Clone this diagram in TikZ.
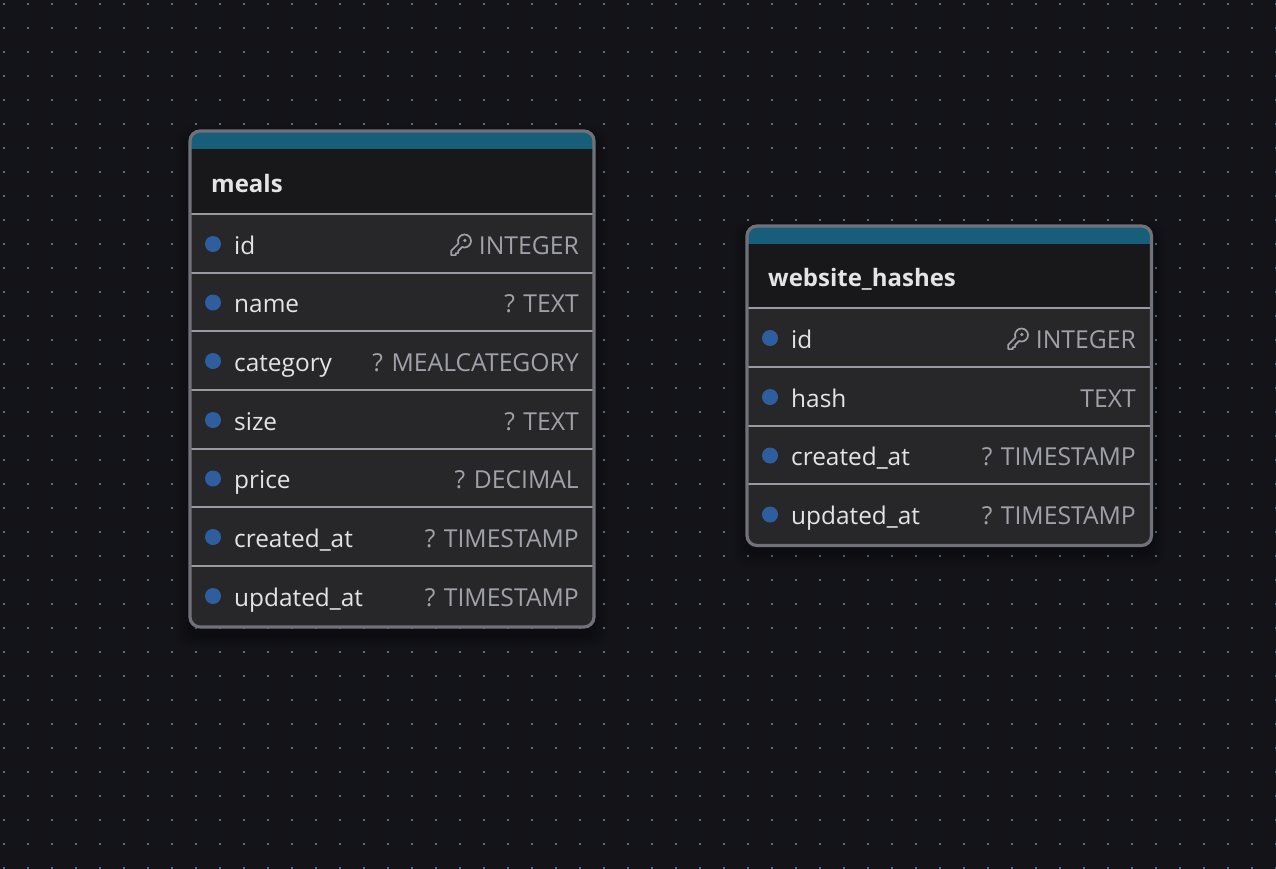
\documentclass[tikz,border=0pt]{standalone}
\usepackage{fontspec}
\setmainfont{Open Sans}
\definecolor{bg}{HTML}{141418}
\definecolor{griddot}{HTML}{4A6F8C}
\definecolor{band}{HTML}{175E7B}
\definecolor{titlebg}{HTML}{18181B}
\definecolor{rowbg}{HTML}{27272A}
\definecolor{frame}{HTML}{71717A}
\definecolor{rule}{HTML}{9A9AA5}
\definecolor{bullet}{HTML}{2F5E9E}
\definecolor{nametxt}{HTML}{E4E4E7}
\definecolor{typetxt}{HTML}{A1A1AA}
\tikzset{
  x=1pt,y=-1pt,
  griddotmark/.style={fill=griddot,draw=none},
  titletxt/.style={anchor=base west,inner sep=0pt,text=nametxt,font=\fontsize{24}{28}\selectfont\bfseries},
  coltxt/.style={anchor=base west,inner sep=0pt,text=nametxt,font=\fontsize{24.4}{28}\selectfont},
  tytxt/.style={anchor=base east,inner sep=0pt,text=typetxt,font=\fontsize{24.7}{28}\selectfont},
  rowrule/.style={draw=rule,line width=2pt},
  bulletdot/.style={circle,fill=bullet,draw=none,minimum size=16pt,inner sep=0pt},
  keyicon/.style={draw=typetxt,line width=1.7pt,line join=round},
}
\newcommand{\softshadow}[4]{%
  \foreach \e in {1,3,...,13}{
    \fill[black,opacity=0.025,rounded corners=12pt]
      (#1-\e,#2+8-\e) rectangle (#3+\e,#4+8+\e);
  }
}
\newcommand{\tablebody}[5]{%
  \fill[rowbg,rounded corners=10pt] (#1,#2) rectangle (#3,#4);
  \begin{scope}
    \clip[rounded corners=10pt] (#1,#2) rectangle (#3,#4);
    \fill[titlebg] (#1,#2) rectangle (#3,#5);
    \fill[band] (#1,#2) rectangle (#3,#2+18);
  \end{scope}
}
\newcommand{\tableframe}[4]{%
  \draw[frame,line width=3.2pt,rounded corners=10pt] (#1,#2) rectangle (#3,#4);
}
\newcommand{\tablerow}[5]{%
  \node[bulletdot] (b#5) at (#1+23,#2-10) {};
  \node[coltxt] (n#5) at (#1+44,#2) {#3};
  \node[tytxt] (t#5) at (#1+389,#2) {#4};
}
\newcommand{\keyat}[2]{%
  \begin{scope}[shift={(#1,#2)}]
    \draw[keyicon] (8.49,-1.03) arc[start angle=157.7,end angle=472.3,radius=6.5]
      -- (8.2,6.4) -- (8.2,8.6) -- (5.8,8.6) -- (5.8,10.6) -- (1.2,10.6) -- (1.2,6.3) -- cycle;
    \fill[typetxt] (14.8,-4) circle[radius=1.7];
  \end{scope}
}
\begin{document}
\begin{tikzpicture}
\useasboundingbox (0,0) rectangle (1276,868);
\fill[bg] (-3,-3) rectangle (1279,871);
\foreach \i in {0,...,53}{\foreach \j in {0,...,36}{
  \fill[griddotmark] (3.2+24*\i,3.2+24*\j) rectangle ++(1.7,1.7);
}}
% meals
\softshadow{190}{131}{594}{627}
\tablebody{190}{131}{594}{627}{214}
\foreach \y in {214,272.5,331,390,448.5,507,566}{\draw[rowrule] (191,\y) -- (593,\y);}
\tableframe{190}{131}{594}{627}
\node[titletxt] (mealstitle) at (211,192) {meals};
\tablerow{190}{254}{id}{INTEGER}{ma}
\tablerow{190}{312.5}{name}{? TEXT}{mb}
\tablerow{190}{371}{category}{? MEALCATEGORY}{mc}
\tablerow{190}{430}{size}{? TEXT}{md}
\tablerow{190}{488.5}{price}{? DECIMAL}{me}
\tablerow{190}{547}{created\_at}{? TIMESTAMP}{mf}
\tablerow{190}{606}{updated\_at}{? TIMESTAMP}{mg}
\keyat{450}{244.5}
% website_hashes
\softshadow{747}{226}{1151.5}{545.5}
\tablebody{747}{226}{1151.5}{545.5}{308}
\foreach \y in {308,367,426,484}{\draw[rowrule] (748,\y) -- (1150.5,\y);}
\tableframe{747}{226}{1151.5}{545.5}
\node[titletxt] (hashtitle) at (768,286) {website\_hashes};
\tablerow{747}{348}{id}{INTEGER}{wa}
\tablerow{747}{407}{hash}{TEXT}{wb}
\tablerow{747}{465.5}{created\_at}{? TIMESTAMP}{wc}
\tablerow{747}{524.5}{updated\_at}{? TIMESTAMP}{wd}
\keyat{1007}{338.5}
\end{tikzpicture}
\end{document}
